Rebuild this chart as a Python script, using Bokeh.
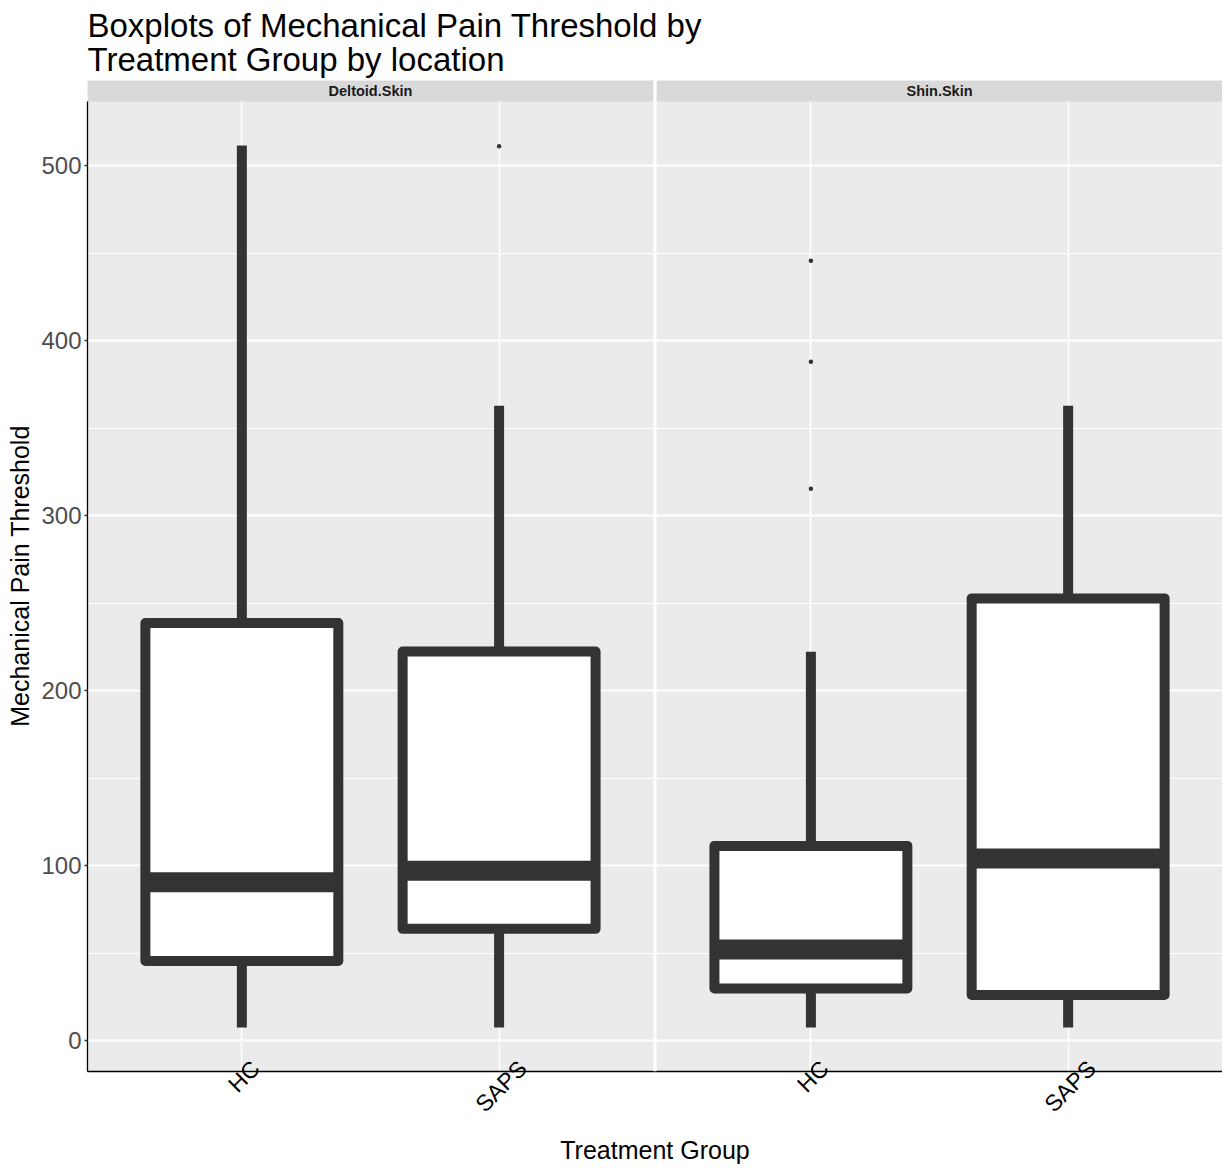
import math
from bokeh.plotting import figure
from bokeh.models import Range1d, FixedTicker, Span
from bokeh.embed import file_html
from bokeh.resources import INLINE

# Facets and groups
locations = ["Deltoid.Skin", "Shin.Skin"]
groups = ["HC", "SAPS"]

# Box statistics, ordered (Deltoid HC, Deltoid SAPS, Shin HC, Shin SAPS)
box_location = ["Deltoid.Skin", "Deltoid.Skin", "Shin.Skin", "Shin.Skin"]
box_group = ["HC", "SAPS", "HC", "SAPS"]
whisker_low = [7.6, 7.6, 7.6, 7.6]
q1 = [45.6, 63.9, 29.9, 26.1]
median = [90.6, 97.1, 52.1, 104.1]
q3 = [238.6, 222.3, 111.3, 252.7]
whisker_high = [511.4, 362.7, 222.2, 362.7]

# Outlying observations
outlier_location = ["Deltoid.Skin", "Shin.Skin", "Shin.Skin", "Shin.Skin"]
outlier_group = ["SAPS", "HC", "HC", "HC"]
outlier_value = [511.0, 445.6, 387.9, 315.3]

y_ticks = [0, 100, 200, 300, 400, 500]

# ---- layout helpers (discrete axis expansion like ggplot) ----
W, H = 1222, 1168
LEFT = 87
PAD = 0.6          # discrete expansion on each side
GAP = 0.012        # white spacing between facets
BOX_HALF = 0.375   # half of box width
XLAB_PX = 23       # x tick label size
facet_span = len(groups) - 1 + 2 * PAD


def facet_offset(loc):
    return locations.index(loc) * (facet_span + GAP)


def xpos(loc, grp):
    return facet_offset(loc) + groups.index(grp) + 1


lo = min(whisker_low + outlier_value)
hi = max(whisker_high + outlier_value)
ext = (hi - lo) * 0.05
y0, y1 = lo - ext, hi + ext
strip_h = 12.0     # strip band height in data units
x0 = 1 - PAD
x_end = facet_offset(locations[-1]) + len(groups) + PAD
px_per_x = (W - LEFT) / (x_end - x0)


def label_nudge(text):
    # rotated labels are end-anchored by Bokeh; move them so they sit centred on the category
    return (0.3 * len(text) * XLAB_PX * math.cos(math.pi / 4) + 4) / px_per_x


p = figure(width=W, height=H, output_backend="svg", toolbar_location=None,
           x_range=Range1d(x0, x_end), y_range=Range1d(y0, y1 + strip_h),
           min_border_left=LEFT, min_border_right=0, min_border_top=80,
           min_border_bottom=97, background_fill_color="#EBEBEB",
           border_fill_color="white", outline_line_color=None)

p.title.text = "Boxplots of Mechanical Pain Threshold by\nTreatment Group by location"
p.title.text_font = "Liberation Sans"
p.title.text_font_size = "33px"
p.title.text_font_style = "normal"
p.title.text_color = "black"
p.title.text_line_height = 0.92
p.title.offset = 0
p.title.standoff = 5

# grid
cat_pos = [xpos(l, g) for l in locations for g in groups]
p.xgrid.ticker = FixedTicker(ticks=cat_pos)
p.xgrid.grid_line_color = "white"
p.xgrid.grid_line_width = 1.5
p.ygrid.ticker = FixedTicker(ticks=y_ticks, minor_ticks=[50, 150, 250, 350, 450])
p.ygrid.grid_line_color = "white"
p.ygrid.grid_line_width = 2
p.ygrid.minor_grid_line_color = "white"
p.ygrid.minor_grid_line_width = 1

# axes
label_pos = {xpos(l, g) + label_nudge(g): g for l in locations for g in groups}
p.xaxis.ticker = FixedTicker(ticks=list(label_pos.keys()))
p.xaxis.major_label_overrides = label_pos
p.xaxis.major_label_orientation = math.pi / 4
p.xaxis.axis_label = "Treatment Group"
p.yaxis.ticker = FixedTicker(ticks=y_ticks)
p.yaxis.axis_label = "Mechanical Pain Threshold"
p.yaxis.bounds = (y0, y1)
for ax in (p.xaxis[0], p.yaxis[0]):
    ax.axis_line_color = "black"
    ax.axis_line_width = 1.3
    ax.major_tick_line_color = "#333333"
    ax.major_tick_line_width = 1.3
    ax.major_tick_out = 3
    ax.major_tick_in = 0
    ax.minor_tick_line_color = None
    ax.major_label_text_font = "Liberation Sans"
    ax.major_label_text_font_size = "24px"
    ax.axis_label_text_font = "Liberation Sans"
    ax.axis_label_text_font_size = "25px"
    ax.axis_label_text_font_style = "normal"
    ax.axis_label_text_color = "black"
p.xaxis.major_tick_line_color = None
p.xaxis.major_tick_out = 0
p.xaxis.major_label_text_font_size = f"{XLAB_PX}px"
p.xaxis.major_label_text_color = "black"
p.yaxis.major_label_text_color = "#4D4D4D"
p.xaxis.major_label_standoff = -7
p.yaxis.major_label_standoff = 3
p.xaxis.axis_label_standoff = 7
p.yaxis.axis_label_standoff = 4

# facet strips
for loc in locations:
    left = facet_offset(loc) + x0
    p.quad(left=[left], right=[left + facet_span], bottom=[y1], top=[y1 + strip_h],
           fill_color="#D9D9D9", line_color=None)
    p.text(x=[left + facet_span / 2], y=[y1 + strip_h / 2], text=[loc],
           text_align="center", text_baseline="middle", text_font_size="14.5px",
           text_font_style="bold", text_color="#1A1A1A",
           text_font={"value": "Liberation Sans"})

# white gutter between facets
p.add_layout(Span(location=facet_offset(locations[1]) + x0 - GAP / 2, dimension="height",
                  line_color="white", line_width=3))

# boxplots
xs = [xpos(l, g) for l, g in zip(box_location, box_group)]
dark = "#333333"
p.segment(x0=xs, x1=xs, y0=q3, y1=whisker_high, line_color=dark, line_width=10,
          line_cap="butt")
p.segment(x0=xs, x1=xs, y0=whisker_low, y1=q1, line_color=dark, line_width=10,
          line_cap="butt")
p.quad(left=[x - BOX_HALF for x in xs], right=[x + BOX_HALF for x in xs],
       bottom=q1, top=q3, fill_color="white", line_color=dark, line_width=10,
       line_join="round")
p.segment(x0=[x - BOX_HALF for x in xs], x1=[x + BOX_HALF for x in xs],
          y0=median, y1=median, line_color=dark, line_width=20, line_cap="butt")

# outliers
ox = [xpos(l, g) for l, g in zip(outlier_location, outlier_group)]
p.scatter(x=ox, y=outlier_value, size=4.5, marker="circle", fill_color=dark,
          line_color=None)

with open("out.html", "w") as f:
    f.write(file_html(p, INLINE))
